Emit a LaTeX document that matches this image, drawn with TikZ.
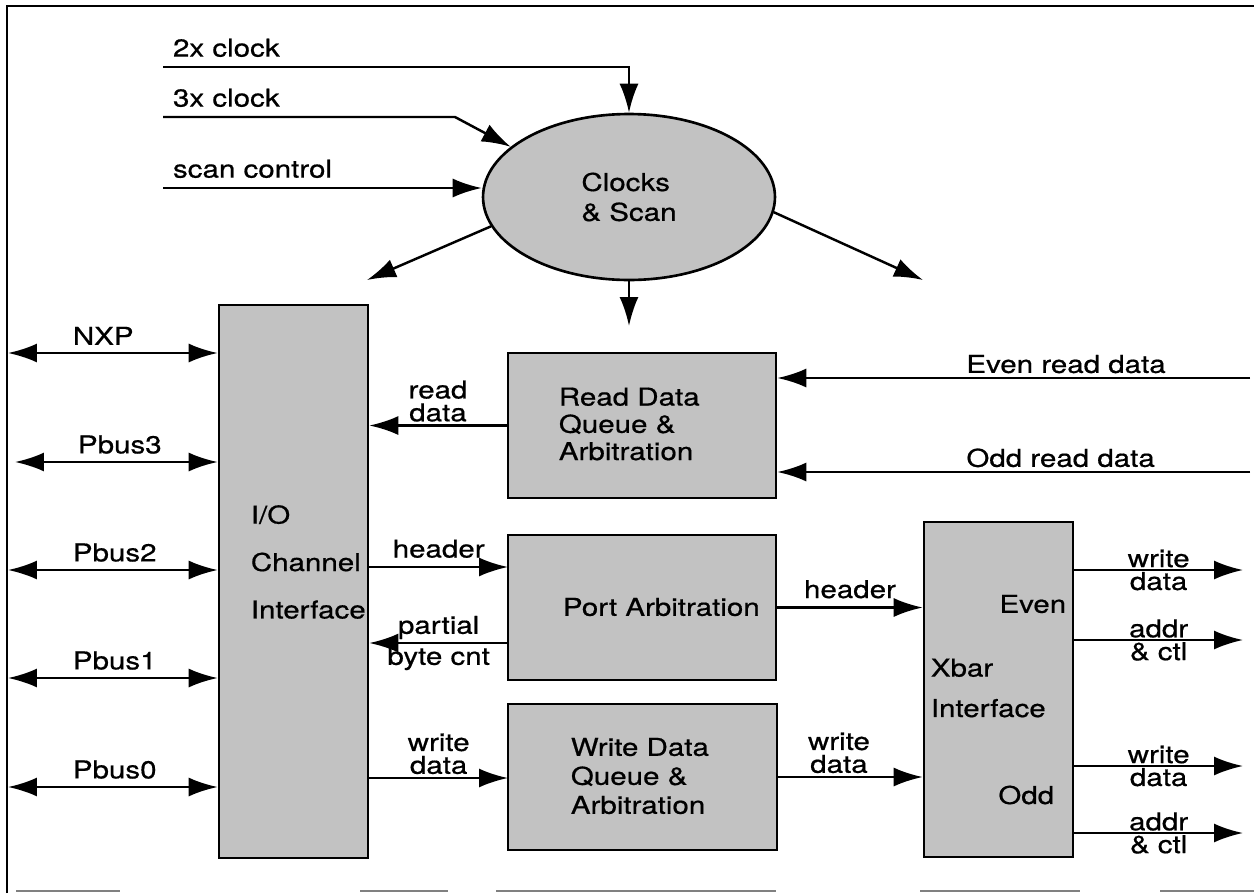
\documentclass[tikz,border=0pt]{standalone}
\usepackage{fontspec}
\setmainfont{TeX Gyre Heros}[FakeStretch=1.2,FakeBold=0.6]
\usetikzlibrary{arrows.meta,shapes.geometric}
\tikzset{>={Latex[length=5.8mm,width=3.8mm]}}
\colorlet{dots}{black!24}
\tikzset{
  block/.style={draw,line width=1.5pt,fill=dots,inner sep=0pt},
  txt/.style={font=\fontsize{14}{15}\selectfont,inner sep=2pt},
  sig/.style={txt,align=center,font=\fontsize{14}{13}\selectfont,inner sep=1.5pt},
  wire/.style={line width=1.4pt}
}

\begin{document}
\begin{tikzpicture}[x=0.02cm,y=-0.02cm]
  \useasboundingbox (0,0) rectangle (1254,893);
  % frame
  \draw[line width=1.4pt] (7,893) -- (7,6) -- (1254,6);
  \draw[gray,line width=0.8pt] (16,891) -- (120,891) (360,891) -- (448,891)
    (496,891) -- (776,891) (920,891) -- (1080,891) (1160,891) -- (1254,891);

  % blocks
  \node[block,ellipse,minimum width=5.84cm,minimum height=3.32cm,align=left,
    font=\fontsize{14}{17}\selectfont] (clk) at (629,197) {Clocks\\\& Scan};
  \node[block,minimum width=2.98cm,minimum height=11.06cm] (io) at (293.5,581.5) {};
  \node[txt,anchor=west,align=left,font=\fontsize{14}{27}\selectfont] (iotxt) at (247,562) {I/O\\Channel\\Interface};
  \node[block,minimum width=5.36cm,minimum height=2.9cm] (rdq) at (642,425.5) {};
  \node[txt,anchor=west,align=left,font=\fontsize{14}{15.5}\selectfont] (rdqtxt) at (555,424) {Read Data\\Queue \&\\Arbitration};
  \node[block,minimum width=5.36cm,minimum height=2.9cm] (pa) at (642,607.5) {};
  \node[txt,anchor=west] (patxt) at (559,607) {Port Arbitration};
  \node[block,minimum width=5.38cm,minimum height=2.92cm] (wdq) at (642.5,777) {};
  \node[txt,anchor=west,align=left,font=\fontsize{14}{16.5}\selectfont] (wdqtxt) at (567,776) {Write Data\\Queue \&\\Arbitration};
  \node[block,minimum width=2.98cm,minimum height=6.7cm] (xbar) at (998.5,689.5) {};
  \node[txt,anchor=east] (xeven) at (1070,604) {Even};
  \node[txt,anchor=west,align=left,font=\fontsize{14}{23}\selectfont] (xbartxt) at (927,688) {Xbar\\Interface};
  \node[txt,anchor=east] (xodd) at (1058,795) {Odd};

  % clock inputs
  \coordinate (c2) at (163,67);
  \coordinate (c3) at (163,117);
  \coordinate (sc) at (163,188);
  \draw[wire,->] (c2) -| node[txt,pos=0,above right=3pt] {2x clock} (clk.north);
  \draw[wire,->] (c3) -- node[txt,pos=0,above right=3pt] {3x clock} ++(292,0) -- (clk.157);
  \draw[wire,->] (sc) -- node[txt,pos=0,above right=3pt] {scan control} (sc -| clk.west);

  % clock outputs
  \coordinate (ckl) at (367,280);
  \coordinate (ckr) at (923,280);
  \coordinate (ckd) at (629,326);
  \draw[wire,->] (clk.192) -- (ckl);
  \draw[wire,->] (clk.-6) -- (ckr);
  \draw[wire,->] (clk.south) -- (ckd);

  % processor side
  \coordinate (nxp) at (8,353);
  \coordinate (pb3) at (15,462);
  \coordinate (pb2) at (8,570);
  \coordinate (pb1) at (8,678);
  \coordinate (pb0) at (8,787);
  \draw[wire,<->] (nxp) -- node[txt,pos=0.27,above right=2pt] {NXP} (nxp -| io.west);
  \draw[wire,<->] (pb3) -- node[txt,pos=0.27,above right=2pt] {Pbus3} (pb3 -| io.west);
  \draw[wire,<->] (pb2) -- node[txt,pos=0.27,above right=2pt] {Pbus2} (pb2 -| io.west);
  \draw[wire,<->] (pb1) -- node[txt,pos=0.27,above right=2pt] {Pbus1} (pb1 -| io.west);
  \draw[wire,<->] (pb0) -- node[txt,pos=0.27,above right=2pt] {Pbus0} (pb0 -| io.west);

  % middle
  \coordinate (hdr) at (508,567);
  \coordinate (pbc) at (508,643);
  \coordinate (wdin) at (508,778);
  \draw[wire,->] (rdq.west) -- node[sig,above] {read\\data} (rdq.west -| io.east);
  \draw[wire,->] (hdr -| io.east) -- node[sig,above=3pt] {header} (hdr);
  \draw[wire,->] (pbc) -- node[sig,above] {partial} node[sig,below] {byte cnt} (pbc -| io.east);
  \draw[wire,->] (wdin -| io.east) -- node[sig,above] {write\\data} (wdin);

  % read data in
  \coordinate (evrd) at (1250,378);
  \coordinate (odrd) at (1250,472);
  \draw[wire,->] (evrd) -- node[txt,pos=0.61,above right] {Even read data} (evrd -| rdq.east);
  \draw[wire,->] (odrd) -- node[txt,pos=0.61,above right] {Odd read data} (odrd -| rdq.east);

  % to xbar
  \draw[wire,->] (pa.east) -- node[sig,above=3pt] {header} (pa.east -| xbar.west);
  \draw[wire,->] (wdq.east) -- node[sig,pos=0.42,above] {write\\data} (wdq.east -| xbar.west);

  % xbar outputs
  \coordinate (xo1) at (1243,570);
  \coordinate (xo2) at (1243,640);
  \coordinate (xo3) at (1243,766);
  \coordinate (xo4) at (1243,833);
  \draw[wire,->] (xo1 -| xbar.east) -- node[sig] {write\\data} (xo1);
  \draw[wire,->] (xo2 -| xbar.east) -- node[sig] {addr\\\& ctl} (xo2);
  \draw[wire,->] (xo3 -| xbar.east) -- node[sig] {write\\data} (xo3);
  \draw[wire,->] (xo4 -| xbar.east) -- node[sig] {addr\\\& ctl} (xo4);
\end{tikzpicture}
\end{document}
